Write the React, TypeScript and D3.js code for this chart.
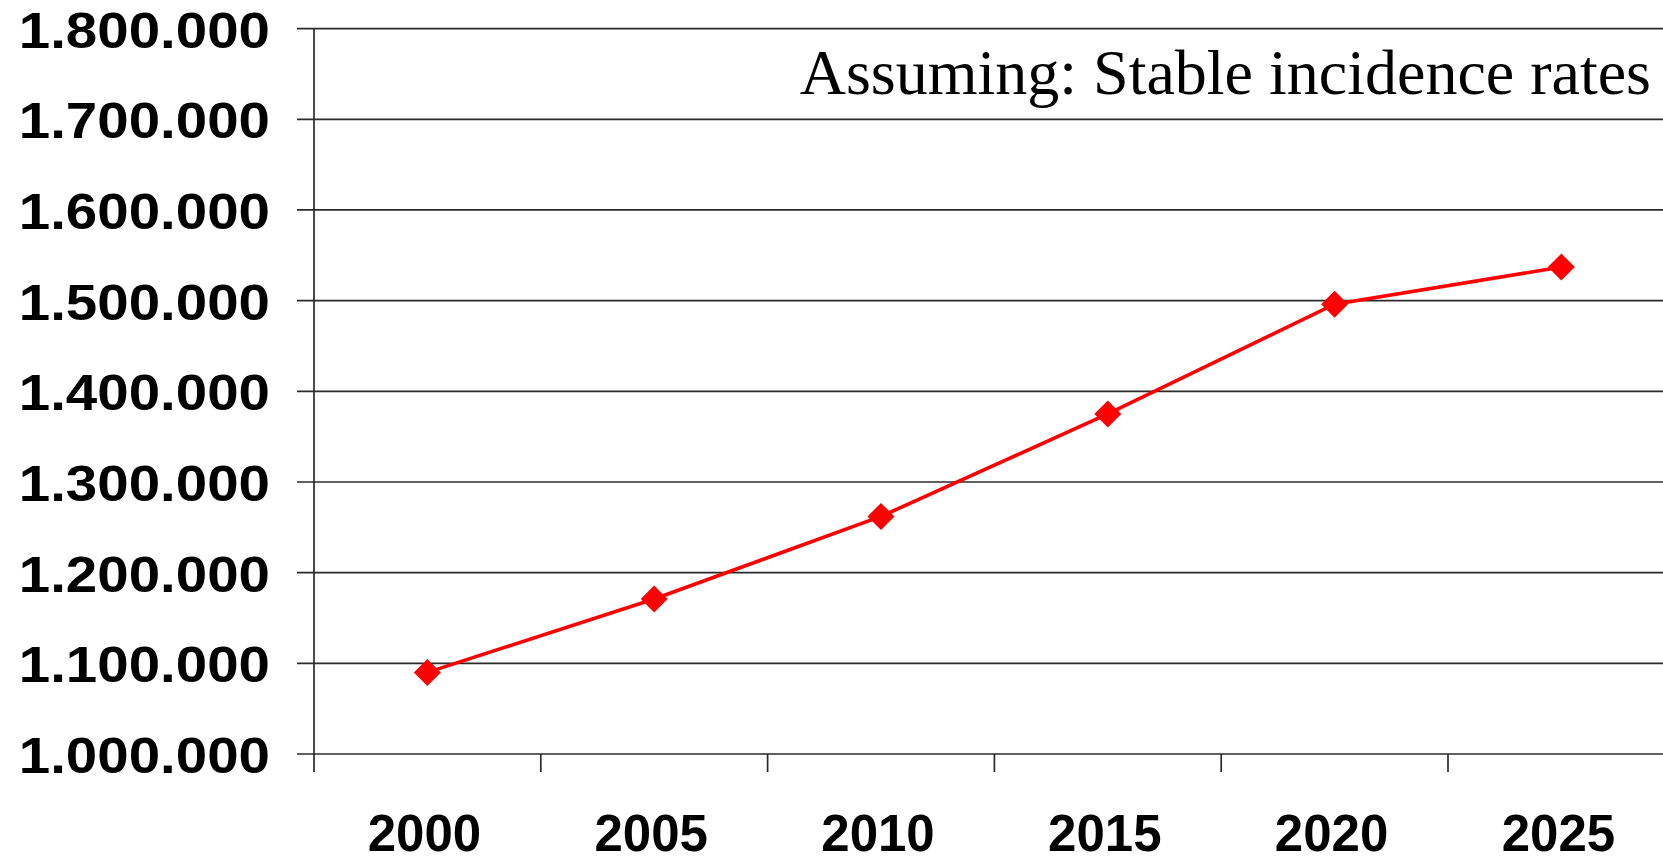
import React from "react";
import * as d3 from "d3";

// chart data
const years = ["2000", "2005", "2010", "2015", "2020", "2025"];
const cases = [1090000, 1171000, 1262000, 1375000, 1496000, 1537000];
const yTicks = [1000000, 1100000, 1200000, 1300000, 1400000, 1500000, 1600000, 1700000, 1800000];
const note = "Assuming: Stable incidence rates";

const W = 1663;
const H = 856;

// dotted thousands, e.g. 1.800.000
const fmt = (v: number) => d3.format(",")(v).replace(/,/g, ".");

export default function App() {
  const margin = { top: 28.6, left: 314, bottom: 754 };
  const bandW = 226.8;

  const x = d3
    .scaleBand()
    .domain(years)
    .range([margin.left, margin.left + bandW * years.length])
    .padding(0);
  const y = d3.scaleLinear().domain([1000000, 1800000]).range([margin.bottom, margin.top]);

  const line = d3
    .line<number>()
    .x((d, i) => x(years[i])! + x.bandwidth() / 2)
    .y((d) => y(d));

  const bold = "'Liberation Sans', Arial, sans-serif";
  const r = 13.5;

  return (
    <svg
      width={W}
      height={H}
      style={{ position: "absolute", left: 0, top: 0, background: "#fff" }}
    >
      {/* gridlines plus little left ticks */}
      {yTicks.map((t) => (
        <g key={t}>
          <line x1={297} x2={W} y1={y(t)} y2={y(t)} stroke="#2a2a2a" strokeWidth={1.7} />
          {/* labels are wider than plain Arial bold, so stretch them a bit */}
          <text
            transform={`translate(270,${y(t) + 19}) scale(1.13,1)`}
            textAnchor="end"
            fontFamily={bold}
            fontWeight="bold"
            fontSize={50}
            fill="#000"
          >
            {fmt(t)}
          </text>
        </g>
      ))}

      {/* y axis */}
      <line
        x1={margin.left}
        x2={margin.left}
        y1={margin.top}
        y2={margin.bottom + 18}
        stroke="#2a2a2a"
        strokeWidth={1.7}
      />

      {/* x ticks at band boundaries */}
      {years.map((yr) => (
        <line
          key={"t" + yr}
          x1={x(yr)! + x.bandwidth()}
          x2={x(yr)! + x.bandwidth()}
          y1={margin.bottom}
          y2={margin.bottom + 18}
          stroke="#2a2a2a"
          strokeWidth={1.7}
        />
      ))}

      {years.map((yr) => (
        <text
          key={"l" + yr}
          x={x(yr)! + x.bandwidth() / 2 - 3}
          y={851}
          textAnchor="middle"
          fontFamily={bold}
          fontWeight="bold"
          fontSize={51}
          fill="#000"
        >
          {yr}
        </text>
      ))}

      <path d={line(cases) || ""} fill="none" stroke="#ff0000" strokeWidth={3.6} />

      {cases.map((v, i) => {
        const cx = x(years[i])! + x.bandwidth() / 2;
        const cy = y(v);
        return (
          <path
            key={"m" + i}
            d={`M${cx},${cy - r}L${cx + r},${cy}L${cx},${cy + r}L${cx - r},${cy}Z`}
            fill="#ff0000"
          />
        );
      })}

      <text
        x={1651}
        y={94}
        textAnchor="end"
        fontFamily="'Liberation Serif', 'Times New Roman', serif"
        fontSize={64}
        fill="#000"
      >
        {note}
      </text>
    </svg>
  );
}
